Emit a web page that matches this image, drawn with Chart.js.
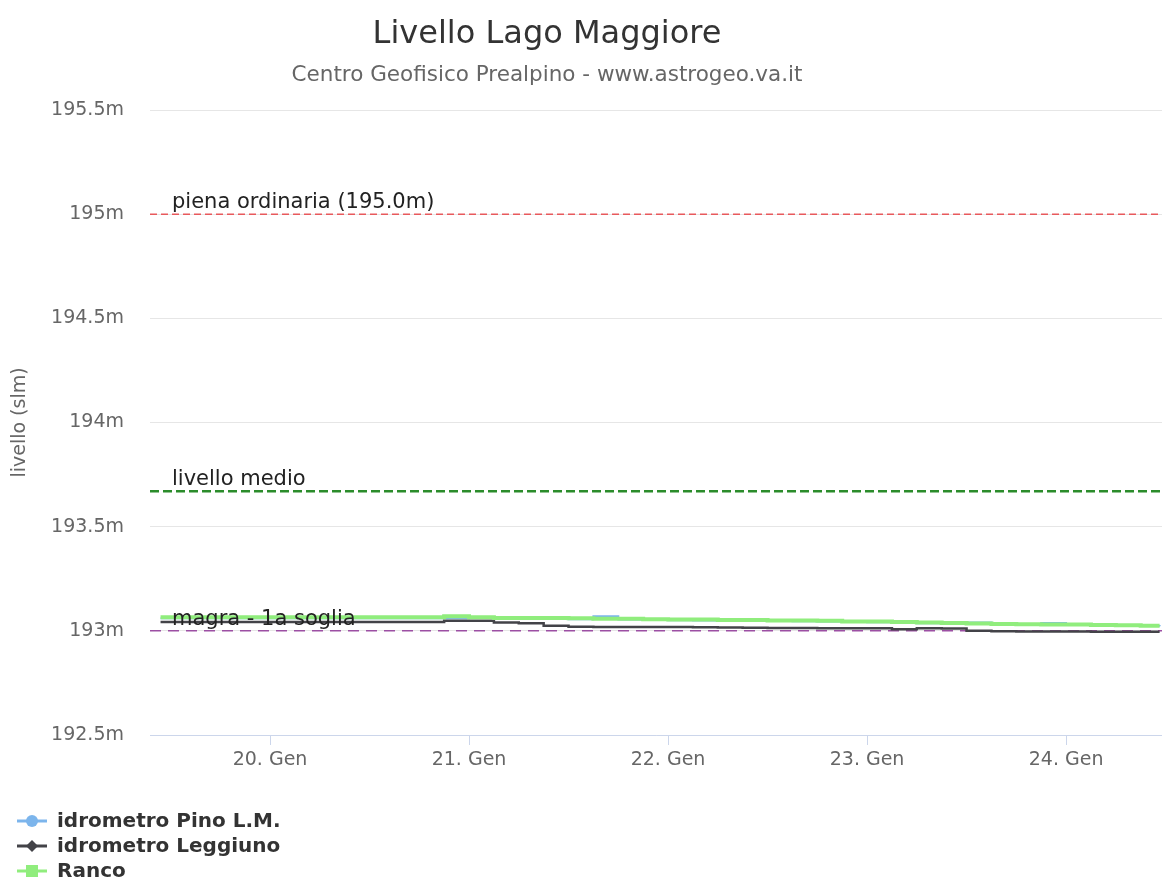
<!DOCTYPE html>
<html>
<head>
<meta charset="utf-8">
<title>Livello Lago Maggiore</title>
<script src="https://cdn.jsdelivr.net/npm/chart.js@4.4.1/dist/chart.umd.min.js"></script>
<style>
  html, body { margin: 0; padding: 0; background: #fff; }
  #wrap { width: 1162px; height: 881px; }
</style>
</head>
<body>
<div id="wrap"><canvas id="lago"></canvas></div>
<script>
// days of January (20 = 20. Gen 00:00), one reading every 3 hours
var days = [19.45, 19.5, 19.625, 19.75, 19.875, 20, 20.125, 20.25, 20.375, 20.5,
            20.625, 20.75, 20.875, 21, 21.125, 21.25, 21.375, 21.5, 21.625, 21.75,
            21.875, 22, 22.125, 22.25, 22.375, 22.5, 22.625, 22.75, 22.875, 23,
            23.125, 23.25, 23.375, 23.5, 23.625, 23.75, 23.875, 24, 24.125, 24.25,
            24.375, 24.47];

var pino = [193.060, 193.060, 193.060, 193.060, 193.060, 193.060, 193.060, 193.060, 193.060, 193.060,
            193.060, 193.060, 193.060, 193.066, 193.058, 193.058, 193.058, 193.056, 193.070, 193.054,
            193.052, 193.051, 193.050, 193.049, 193.048, 193.047, 193.046, 193.045, 193.042, 193.041,
            193.039, 193.037, 193.035, 193.040, 193.031, 193.030, 193.038, 193.028, 193.026, 193.025,
            193.023, 193.022];

var leggiuno = [193.043, 193.043, 193.043, 193.043, 193.043, 193.043, 193.043, 193.043, 193.043, 193.043,
                193.043, 193.043, 193.048, 193.048, 193.040, 193.036, 193.025, 193.020, 193.018, 193.018,
                193.018, 193.018, 193.017, 193.016, 193.015, 193.014, 193.014, 193.013, 193.013, 193.012,
                193.008, 193.012, 193.011, 193.000, 192.998, 192.997, 192.997, 192.997, 192.996, 192.996,
                192.996, 192.996];

var ranco = [193.065, 193.065, 193.065, 193.065, 193.065, 193.065, 193.065, 193.065, 193.065, 193.065,
             193.065, 193.065, 193.070, 193.065, 193.062, 193.062, 193.062, 193.060, 193.058, 193.058,
             193.056, 193.055, 193.054, 193.052, 193.052, 193.050, 193.050, 193.048, 193.045, 193.045,
             193.042, 193.040, 193.038, 193.035, 193.033, 193.032, 193.030, 193.030, 193.028, 193.027,
             193.025, 193.025];

var seriesNames = ["idrometro Pino L.M.", "idrometro Leggiuno", "Ranco"];
var seriesColors = ["#7cb5ec", "#434348", "#90ed7d"];
var seriesMarkers = ["circle", "diamond", "square"];

var soglieValori = [195.0, 193.67, 193.0];
var soglieNomi = ["piena ordinaria (195.0m)", "livello medio", "magra - 1a soglia"];
var soglieColori = ["#e8595c", "#2b8c2b", "#9c4fa3"];

var dayTicks = [20, 21, 22, 23, 24];
var xMin = 19.397, xMax = 24.482;
var yMin = 192.5, yMax = 195.5;

var FONT = "'DejaVu Sans', sans-serif";

function toXY(vals) {
    return vals.map(function(v, i){ return { x: days[i], y: v }; });
}

var datasets = [];
// threshold lines, drawn under the series
soglieValori.forEach(function(v, i){
    datasets.push({
        label: soglieNomi[i],
        data: [{ x: xMin, y: v }, { x: xMax, y: v }],
        borderColor: soglieColori[i],
        borderWidth: i === 1 ? 2.5 : 1.5,
        borderDash: i === 0 ? [7, 4] : (i === 1 ? [9, 4] : [11, 7]),
        pointRadius: 0,
        order: 10
    });
});
[pino, leggiuno, ranco].forEach(function(vals, i){
    datasets.push({
        label: seriesNames[i],
        data: toXY(vals),
        borderColor: seriesColors[i],
        backgroundColor: seriesColors[i],
        borderWidth: i === 2 ? 4 : (i === 1 ? 2.5 : 2),
        stepped: true,
        pointRadius: 0,
        order: 3 - i
    });
});

var decorPlugin = {
    id: "decor",
    afterDraw: function(chart) {
        var ctx = chart.ctx;
        var area = chart.chartArea;
        var y = chart.scales.y;
        ctx.save();
        // title and subtitle
        ctx.textAlign = "center";
        ctx.fillStyle = "#333333";
        ctx.font = "32px " + FONT;
        ctx.fillText("Livello Lago Maggiore", 547, 43);
        ctx.fillStyle = "#666666";
        ctx.font = "21.5px " + FONT;
        ctx.fillText("Centro Geofisico Prealpino - www.astrogeo.va.it", 547, 81);

        // threshold labels
        ctx.textAlign = "left";
        ctx.fillStyle = "#222222";
        ctx.font = "21px " + FONT;
        soglieValori.forEach(function(v, i){
            ctx.fillText(soglieNomi[i], area.left + 22, y.getPixelForValue(v) - 6);
        });

        // legend
        ctx.font = "bold 20px " + FONT;
        seriesNames.forEach(function(name, i){
            var ly = 821 + i * 25;
            ctx.strokeStyle = seriesColors[i];
            ctx.fillStyle = seriesColors[i];
            ctx.lineWidth = 3;
            ctx.beginPath();
            ctx.moveTo(17, ly);
            ctx.lineTo(47, ly);
            ctx.stroke();
            ctx.beginPath();
            if (seriesMarkers[i] === "circle") {
                ctx.arc(32, ly, 6, 0, Math.PI * 2);
            } else if (seriesMarkers[i] === "diamond") {
                ctx.moveTo(32, ly - 6); ctx.lineTo(38, ly); ctx.lineTo(32, ly + 6); ctx.lineTo(26, ly);
                ctx.closePath();
            } else {
                ctx.rect(26, ly - 6, 12, 12);
            }
            ctx.fill();
            ctx.fillStyle = "#333333";
            ctx.textBaseline = "middle";
            ctx.fillText(name, 57, ly + 1);
        });
        ctx.restore();
    }
};

new Chart(document.getElementById("lago"), {
    type: "line",
    data: { datasets: datasets },
    options: {
        responsive: true,
        maintainAspectRatio: false,
        animation: false,
        layout: { padding: { top: 110, bottom: 106, left: 0, right: 0 } },
        plugins: {
            legend: { display: false },
            title: { display: false },
            tooltip: { enabled: false }
        },
        scales: {
            x: {
                type: "linear",
                min: xMin,
                max: xMax,
                afterFit: function(s){ s.height = 40; },
                afterBuildTicks: function(s){
                    s.ticks = dayTicks.map(function(d){ return { value: d }; });
                },
                grid: { drawOnChartArea: false, drawTicks: true, tickLength: 10, color: "#ccd6eb" },
                border: { color: "#ccd6eb", width: 1 },
                ticks: {
                    color: "#666666",
                    font: { family: FONT, size: 19 },
                    padding: 4,
                    maxRotation: 0,
                    callback: function(v){ return v + ". Gen"; }
                }
            },
            y: {
                min: yMin,
                max: yMax,
                afterFit: function(s){ s.width = 150; },
                grid: { color: "#e6e6e6", drawTicks: false },
                border: { display: false },
                ticks: {
                    stepSize: 0.5,
                    color: "#666666",
                    padding: 26,
                    font: { family: FONT, size: 19 },
                    callback: function(v){ return (Math.round(v * 10) / 10) + "m"; }
                },
                title: {
                    display: true,
                    text: "livello (slm)",
                    color: "#666666",
                    font: { family: FONT, size: 19 },
                    padding: { top: 9, bottom: 0 }
                }
            }
        }
    },
    plugins: [decorPlugin]
});
</script>
</body>
</html>
